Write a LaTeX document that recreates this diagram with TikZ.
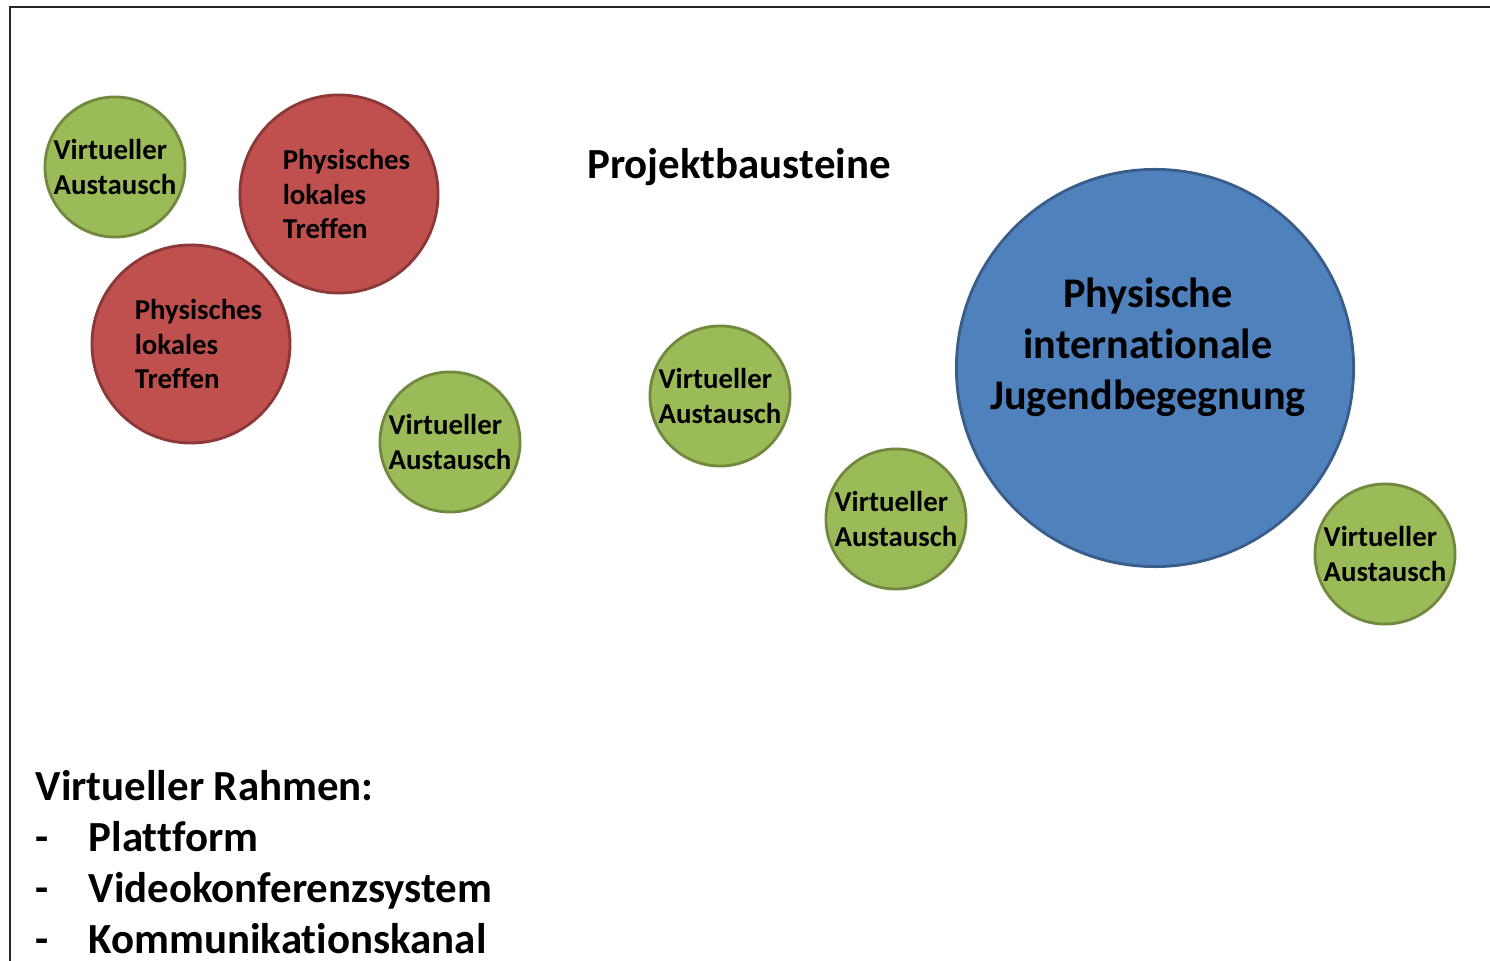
\documentclass[tikz,border=0pt]{standalone}
\usepackage{fontspec}
\setmainfont{Carlito}[Ligatures=NoCommon]

\definecolor{gruen}{HTML}{9BBB59}
\definecolor{gruenrand}{HTML}{71893F}
\definecolor{rot}{HTML}{C0504D}
\definecolor{rotrand}{HTML}{8C3836}
\definecolor{blau}{HTML}{4F81BD}
\definecolor{blaurand}{HTML}{385D8A}

\tikzset{
  baustein/.style={circle, inner sep=0pt, line width=0.8pt, align=left,
    font=\bfseries\fontsize{8.2}{9.7}\selectfont},
  austausch/.style={baustein, draw=gruenrand, fill=gruen, minimum size=1.40cm},
  treffen/.style={baustein, draw=rotrand, fill=rot, minimum size=1.98cm,
    label={[xshift=0.075cm, align=left, font=\bfseries\fontsize{8.2}{9.7}\selectfont]center:Physisches\\lokales\\Treffen}},
  begegnung/.style={baustein, draw=blaurand, fill=blau, minimum size=3.97cm}
}

\begin{document}
\begin{tikzpicture}[x=0.01cm, y=-0.01cm]

 \useasboundingbox (0,0) rectangle (1490,961);
 \draw[line width=0.7pt, black!85] (10,961) -- (10,7) -- (1490,7);

 \node[font=\bfseries\fontsize{12.2}{14}\selectfont] (titel) at (739,167) {Projektbausteine};

 \node[austausch] (va1) at (115,167) {Virtueller\\Austausch};
 \node[treffen] (lt1) at (339,194) {};
 \node[treffen] (lt2) at (191,344) {};
 \node[austausch] (va2) at (450,442) {Virtueller\\Austausch};
 \node[austausch] (va3) at (720,396) {Virtueller\\Austausch};
 \node[austausch] (va4) at (896,519) {Virtueller\\Austausch};
 \node[begegnung, label={[xshift=-0.07cm, yshift=0.21cm, align=center,
   font=\bfseries\fontsize{12}{14.5}\selectfont]center:Physische\\internationale\\Jugendbegegnung}]
   (jb) at (1155,368) {};
 \node[austausch] (va5) at (1385,554) {Virtueller\\Austausch};

 \node[anchor=base west, align=left, inner sep=0pt,
   font=\bfseries\fontsize{12.2}{14.5}\selectfont] (rahmen) at (35,953)
   {Virtueller Rahmen:\\
    \makebox[0.53cm][l]{-}Plattform\\
    \makebox[0.53cm][l]{-}Videokonferenzsystem\\
    \makebox[0.53cm][l]{-}Kommunikationskanal};

\end{tikzpicture}
\end{document}
